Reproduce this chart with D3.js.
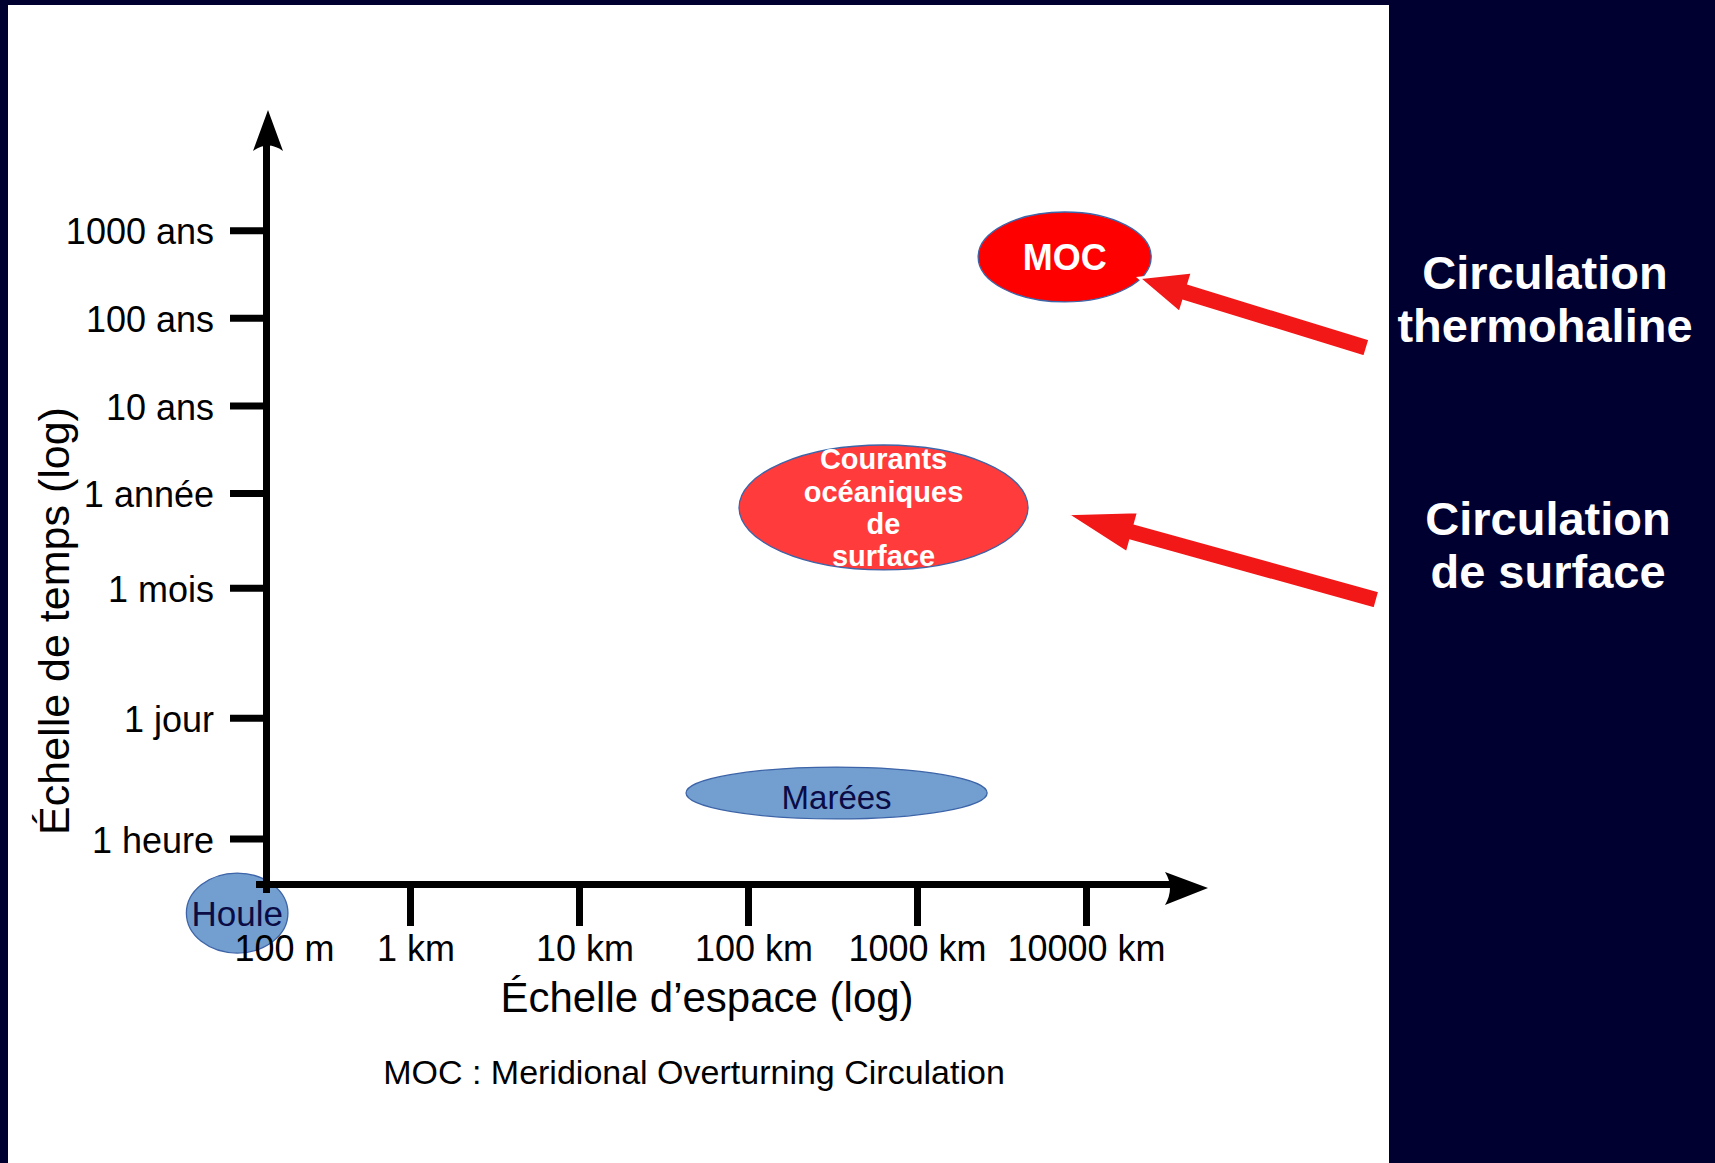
<!DOCTYPE html>
<html>
<head>
<meta charset="utf-8">
<script src="https://cdn.jsdelivr.net/npm/d3@7"></script>
<style>
  body { margin: 0; background: #000030; }
  svg text { font-family: "Liberation Sans", Arial, Helvetica, sans-serif; }
</style>
</head>
<body>
<svg id="chart" width="1715" height="1163"></svg>
<script>
// ---------------- DATA ----------------
const HOUR = 3600, DAY = 86400, MONTH = 2629800, YEAR = 31557600;

// Time axis (seconds, log)
const timeTickValues = [HOUR, DAY, MONTH, YEAR, 10 * YEAR, 100 * YEAR, 1000 * YEAR];
const timeTickLabels = ["1 heure", "1 jour", "1 mois", "1 année", "10 ans", "100 ans", "1000 ans"];

// Space axis (metres, log)
const spaceTickValues = [100, 1e3, 1e4, 1e5, 1e6, 1e7];
const spaceTickLabels = ["100 m", "1 km", "10 km", "100 km", "1000 km", "10000 km"];

// Phenomena: extents in space (m) and time (s)
const phenomenaLabels = [["Houle"], ["Marées"], ["Courants", "océaniques", "de", "surface"], ["MOC"]];
const spaceMin = [28, 43000, 88500, 2.3e6];
const spaceMax = [142, 2.6e6, 4.54e6, 2.43e7];
const timeMin = [178, 6030, 4.19e6, 4.79e9];
const timeMax = [1455, 23600, 1.117e8, 5.09e10];

// Arrow annotations: targets in data space
const arrowLabels = [["Circulation", "thermohaline"], ["Circulation", "de surface"]];
const arrowTipSpace = [2.06e7, 7.73e6];
const arrowTipTime = [9.0e9, 1.82e7];

const xTitle = "Échelle d’espace (log)";
const yTitle = "Échelle de temps (log)";
const footnote = "MOC : Meridional Overturning Circulation";

// ---------------- STYLE / LAYOUT ----------------
const navy = "#000030";
const phenFill = ["#729fcf", "#729fcf", "#ff3b3b", "#ff0000"];
const phenText = ["#0b0b45", "#0b0b45", "#ffffff", "#ffffff"];
const phenWeight = ["normal", "normal", "bold", "bold"];
const phenSize = [35, 33, 29, 36];
const phenDy = [0.36, 0.48, 0.36, 0.36];
const arrowTail = [[1367, 348], [1377, 600]];
const arrowHeadLen = [49, 68];
const arrowLabelBase = [[289, 342], [535, 588]];
const arrowLabelX = [1545, 1548];

const svg = d3.select("#chart");
svg.append("rect").attr("width", 1715).attr("height", 1163).attr("fill", navy);
svg.append("rect").attr("x", 8).attr("y", 5).attr("width", 1381).attr("height", 1158).attr("fill", "#ffffff");

// Scales
const x = d3.scaleLog().domain([100, 1000, 1e7]).range([266, 410, 1086]);
const y = d3.scaleLog().domain([HOUR, 1000 * YEAR]).range([838.6, 230.2]);

const originX = x(100);
const originY = 884;

// ---------------- ELLIPSES ----------------
const phen = phenomenaLabels.map((lab, i) => ({
  lab, i,
  cx: (x(spaceMin[i]) + x(spaceMax[i])) / 2,
  rx: (x(spaceMax[i]) - x(spaceMin[i])) / 2,
  cy: (y(timeMin[i]) + y(timeMax[i])) / 2,
  ry: (y(timeMin[i]) - y(timeMax[i])) / 2
}));

svg.append("g").selectAll("ellipse").data(phen).join("ellipse")
  .attr("cx", d => d.cx).attr("cy", d => d.cy)
  .attr("rx", d => d.rx).attr("ry", d => d.ry)
  .attr("fill", d => phenFill[d.i])
  .attr("stroke", "#3d64a8").attr("stroke-width", 1.3);

// ---------------- AXES ----------------
const yAxis = d3.axisLeft(y).tickValues(timeTickValues)
  .tickFormat((d, i) => timeTickLabels[i]).tickSize(36).tickPadding(16);
const gy = svg.append("g").attr("transform", `translate(${originX},0)`).call(yAxis);
gy.select(".domain").remove();
gy.selectAll(".tick line").attr("stroke", "#000").attr("stroke-width", 7);
gy.selectAll(".tick text").attr("fill", "#000").attr("font-size", 36)
  .attr("font-family", "'Liberation Sans', Arial, sans-serif").attr("dy", "0.38em");

const xAxis = d3.axisBottom(x).tickValues(spaceTickValues)
  .tickFormat((d, i) => spaceTickLabels[i]).tickSize(42).tickPadding(9);
const gx = svg.append("g").attr("transform", `translate(0,${originY})`).call(xAxis);
gx.select(".domain").remove();
gx.selectAll(".tick line").attr("stroke", "#000").attr("stroke-width", 7)
  .attr("y2", (d, i) => i === 0 ? 9 : 42);
gx.selectAll(".tick text").attr("fill", "#000").attr("font-size", 36)
  .attr("font-family", "'Liberation Sans', Arial, sans-serif")
  .attr("dx", (d, i) => i === 0 ? "0.5em" : (i >= 4 ? "0em" : "0.15em"));

// axis lines with arrowheads
const axisG = svg.append("g");
axisG.append("line").attr("x1", originX + 0.5).attr("x2", originX + 0.5)
  .attr("y1", originY + 9).attr("y2", 145).attr("stroke", "#000").attr("stroke-width", 7);
axisG.append("path")
  .attr("d", `M${originX + 2},110 L${originX + 17},151 Q${originX + 2},140 ${originX - 13},151 Z`)
  .attr("fill", "#000");
axisG.append("line").attr("x1", originX - 10).attr("x2", 1170)
  .attr("y1", originY + 0.5).attr("y2", originY + 0.5).attr("stroke", "#000").attr("stroke-width", 7);
axisG.append("path")
  .attr("d", `M1208,${originY + 4} L1165,${originY + 21} Q1175,${originY + 4} 1165,${originY - 12} Z`)
  .attr("fill", "#000");

// titles
svg.append("text").attr("x", 707).attr("y", 1012).attr("text-anchor", "middle")
  .attr("font-size", 42).attr("fill", "#000").text(xTitle);
svg.append("text").attr("transform", "translate(69,621) rotate(-90)").attr("text-anchor", "middle")
  .attr("font-size", 43).attr("fill", "#000").text(yTitle);
svg.append("text").attr("x", 694).attr("y", 1084).attr("text-anchor", "middle")
  .attr("font-size", 34).attr("fill", "#000").text(footnote);

// ---------------- ELLIPSE LABELS ----------------
const lineH = 32.3;
const labG = svg.append("g");
phen.forEach(d => {
  const n = d.lab.length;
  const t = labG.append("text").attr("text-anchor", "middle")
    .attr("font-size", phenSize[d.i]).attr("font-weight", phenWeight[d.i])
    .attr("fill", phenText[d.i]);
  d.lab.forEach((line, k) => {
    t.append("tspan").attr("x", d.cx)
      .attr("y", d.cy + (k - (n - 1) / 2) * lineH + phenDy[d.i] * phenSize[d.i])
      .text(line);
  });
});

// ---------------- ARROWS ----------------
function arrowPath(tail, tip, headLen, headHalf, shaftHalf) {
  const dx = tip[0] - tail[0], dy = tip[1] - tail[1];
  const L = Math.hypot(dx, dy);
  const ux = dx / L, uy = dy / L, nx = -uy, ny = ux;
  const nk = [tip[0] - ux * headLen, tip[1] - uy * headLen];
  const p = [
    [tail[0] + nx * shaftHalf, tail[1] + ny * shaftHalf],
    [nk[0] + nx * shaftHalf, nk[1] + ny * shaftHalf],
    [nk[0] + nx * headHalf, nk[1] + ny * headHalf],
    tip,
    [nk[0] - nx * headHalf, nk[1] - ny * headHalf],
    [nk[0] - nx * shaftHalf, nk[1] - ny * shaftHalf],
    [tail[0] - nx * shaftHalf, tail[1] - ny * shaftHalf]
  ];
  return "M" + p.map(q => q.join(",")).join("L") + "Z";
}

const arrG = svg.append("g");
arrowTipSpace.forEach((s, i) => {
  const tip = [x(s), y(arrowTipTime[i])];
  arrG.append("path").attr("d", arrowPath(arrowTail[i], tip, arrowHeadLen[i], 21, 9))
    .attr("fill", "#f21818").attr("stroke", "#ffffff").attr("stroke-width", 2.5)
    .attr("stroke-linejoin", "miter");
});

// right panel labels
const rl = svg.append("g");
arrowLabels.forEach((lines, i) => {
  lines.forEach((line, k) => {
    rl.append("text").attr("x", arrowLabelX[i]).attr("y", arrowLabelBase[i][k])
      .attr("text-anchor", "middle").attr("font-size", 47).attr("font-weight", "bold")
      .attr("fill", "#ffffff").text(line);
  });
});
</script>
</body>
</html>
